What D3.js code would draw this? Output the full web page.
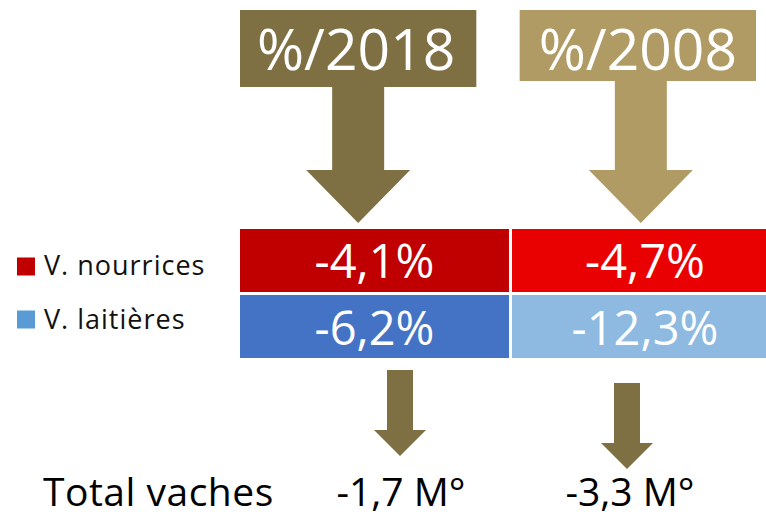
<!DOCTYPE html>
<html>
<head>
<meta charset="utf-8">
<script src="https://cdn.jsdelivr.net/npm/d3@7/dist/d3.min.js"></script>
<style>
  html, body { margin: 0; padding: 0; background: #ffffff; }
  svg { display: block; }
  text { font-family: "Open Sans", "Noto Sans", sans-serif; }
</style>
</head>
<body>
<svg id="chart" width="766" height="519"></svg>
<script>
// ---- data ----
const periods = ["%/2018", "%/2008"];
const rows = ["V. nourrices", "V. laitières"];
const nourricesValues = [-4.1, -4.7];
const laitieresValues = [-6.2, -12.3];
const totalLabel = "Total vaches";
const totalValues = [-1.7, -3.3]; // millions de têtes

// ---- styles / layout ----
const headerColors = ["#7F7043", "#B09B64"];
const cellColors = [["#C00000", "#E90000"], ["#4472C4", "#8EB9E1"]];
const legendColors = ["#C00000", "#5B9BD5"];
const arrowColor = "#7F7043";
const headerBottom = [87, 81];
const smallArrowTop = [370, 383];

const fmt = v => d3.format(".1f")(v).replace(".", ",").replace("−", "-");

const svg = d3.select("#chart");

// scales
const xCol = d3.scaleBand().domain(periods).range([240, 781]).paddingInner(0.011).paddingOuter(0);
const yRow = d3.scaleBand().domain(rows).range([229, 358]).paddingInner(0.0455).paddingOuter(0);
const xHead = d3.scaleBand().domain(periods).range([240, 756]).paddingInner(0.155).paddingOuter(0);
const xTotal = d3.scalePoint().domain(periods).range([400, 627]);

// ---- header arrows ----
const headG = svg.append("g");
periods.forEach((p, i) => {
  const x0 = xHead(p), x1 = x0 + xHead.bandwidth();
  const cx = (x0 + x1) / 2 + (i === 0 ? 0 : 3);
  const top = 10, bb = headerBottom[i];
  const stemHalf = 26, headHalf = 52, headY = 170, tipY = 223;
  const pts = [
    [x0, top], [x1, top], [x1, bb], [cx + stemHalf, bb], [cx + stemHalf, headY],
    [cx + headHalf, headY], [cx, tipY], [cx - headHalf, headY], [cx - stemHalf, headY],
    [cx - stemHalf, bb], [x0, bb]
  ];
  headG.append("path")
    .attr("d", d3.line()(pts) + "Z")
    .attr("fill", headerColors[i]);
  headG.append("text")
    .attr("x", (x0 + x1) / 2 - (i === 0 ? 2 : 0))
    .attr("y", 70)
    .attr("text-anchor", "middle")
    .attr("font-size", 57)
    .attr("fill", "#ffffff")
    .text(p);
});

// ---- table cells ----
const seriesValues = [nourricesValues, laitieresValues];
const cellG = svg.append("g");
rows.forEach((r, ri) => {
  periods.forEach((p, ci) => {
    const v = seriesValues[ri][ci];
    cellG.append("rect")
      .attr("x", xCol(p)).attr("y", yRow(r))
      .attr("width", xCol.bandwidth()).attr("height", yRow.bandwidth())
      .attr("fill", cellColors[ri][ci]);
    cellG.append("text")
      .attr("x", ci === 0 ? xCol(p) + xCol.bandwidth() / 2 : 645)
      .attr("y", yRow(r) + yRow.bandwidth() / 2 + 18)
      .attr("text-anchor", "middle")
      .attr("font-size", 47)
      .attr("fill", "#ffffff")
      .text(fmt(v) + "%");
  });
});

// ---- legend ----
const legG = svg.append("g");
rows.forEach((r, ri) => {
  const cy = yRow(r) + yRow.bandwidth() / 2 + (ri === 0 ? 6 : -7);
  legG.append("rect")
    .attr("x", 17).attr("y", cy - 9)
    .attr("width", 18).attr("height", 18)
    .attr("fill", legendColors[ri]);
  legG.append("text")
    .attr("x", 44).attr("y", cy + 9)
    .attr("font-size", 27)
    .attr("letter-spacing", 1)
    .attr("fill", "#111111")
    .text(r);
});

// ---- small arrows + totals ----
const totG = svg.append("g");
periods.forEach((p, i) => {
  const cx = xTotal(p);
  const top = smallArrowTop[i];
  const headY = top + 60, tipY = top + 86;
  const pts = [
    [cx - 13, top], [cx + 13, top], [cx + 13, headY], [cx + 26, headY],
    [cx, tipY], [cx - 26, headY], [cx - 13, headY]
  ];
  totG.append("path").attr("d", d3.line()(pts) + "Z").attr("fill", arrowColor);
  totG.append("text")
    .attr("x", cx + (i === 0 ? 1 : 3))
    .attr("y", 506)
    .attr("text-anchor", "middle")
    .attr("font-size", 39)
    .attr("fill", "#000000")
    .text(fmt(totalValues[i]) + " M°");
});
totG.append("text")
  .attr("x", 43).attr("y", 506)
  .attr("font-size", 39)
  .attr("letter-spacing", 0.5)
  .attr("fill", "#000000")
  .text(totalLabel);
</script>
</body>
</html>
